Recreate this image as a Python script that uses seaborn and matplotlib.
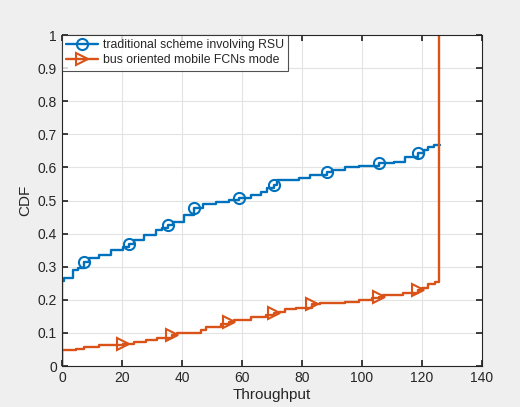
import seaborn as sns
import pandas as pd
import matplotlib.pyplot as plt
from matplotlib.lines import Line2D

# traditional scheme (blue), step vertices of the empirical CDF
rsu_x = [0, 0, 0.6, 3.6, 5.3, 7.5, 9.2, 12.5, 16.3, 20.2, 22.5, 24.0, 27.4, 31.3,
         33.5, 35.2, 37.0, 40.8, 44.1, 46.9, 51.3, 55.7, 59.0, 63.0, 66.3, 68.5,
         70.7, 71.8, 79.0, 82.8, 88.4, 90.0, 94.5, 98.9, 105.5, 110.5, 114.4,
         118.5, 120.5, 122.0, 124.0, 126.0]
rsu_y = [0, 0.258, 0.265, 0.29, 0.297, 0.315, 0.325, 0.335, 0.35, 0.36, 0.37, 0.38,
         0.395, 0.41, 0.418, 0.426, 0.436, 0.456, 0.476, 0.49, 0.496, 0.502, 0.507,
         0.517, 0.527, 0.537, 0.547, 0.562, 0.567, 0.577, 0.587, 0.592, 0.6, 0.605,
         0.612, 0.617, 0.63, 0.643, 0.653, 0.663, 0.668, 0.668]
rsu_marks = [5, 10, 15, 18, 22, 26, 30, 34, 37]

# bus oriented mobile FCNs (orange)
bus_x = [0, 0, 4.8, 7.5, 12.5, 20.2, 24.0, 28.0, 31.8, 36.8, 38.5, 46.2, 48.0, 53.0,
         55.7, 57.5, 63.0, 67.9, 70.7, 72.5, 74.5, 77.9, 83.4, 86.0, 94.5, 98.9,
         103.3, 105.5, 107.0, 113.8, 118.5, 120.0, 122.1, 124.3, 125.8]
bus_y = [0, 0.048, 0.05, 0.058, 0.062, 0.065, 0.073, 0.079, 0.085, 0.094, 0.099,
         0.109, 0.119, 0.127, 0.134, 0.139, 0.149, 0.155, 0.161, 0.164, 0.171, 0.176,
         0.186, 0.189, 0.194, 0.2, 0.204, 0.209, 0.214, 0.221, 0.23, 0.236, 0.247,
         0.255, 1.0]
bus_marks = [5, 9, 14, 18, 22, 27, 30]

labels = ["traditional scheme involving RSU", "bus oriented mobile FCNs mode"]
colors = ["#0072BD", "#D95319"]
markers = ["o", ">"]

rsu = pd.DataFrame({"Throughput": rsu_x, "CDF": rsu_y})
bus = pd.DataFrame({"Throughput": bus_x, "CDF": bus_y})

sns.set_theme(style="white")
plt.rcParams["font.family"] = ["Liberation Sans", "DejaVu Sans"]

fig = plt.figure(figsize=(5.2, 4.07), dpi=100, facecolor="#efefef")
ax = fig.add_axes([0.119, 0.1007, 0.808, 0.8133])
ax.set_facecolor("white")

for df, marks, c, m in [(rsu, rsu_marks, colors[0], markers[0]),
                        (bus, bus_marks, colors[1], markers[1])]:
    sns.lineplot(data=df, x="Throughput", y="CDF", ax=ax, estimator=None, sort=False,
                 drawstyle="steps-post", color=c, linewidth=1.7,
                 marker=m, markersize=8, markevery=marks, markerfacecolor="none",
                 markeredgecolor=c, markeredgewidth=1.5)

ax.set_xlim(0, 140)
ax.set_ylim(0, 1)
ax.set_xticks(range(0, 141, 20))
ax.set_yticks([i / 10 for i in range(11)])
ax.set_yticklabels(["0", "0.1", "0.2", "0.3", "0.4", "0.5", "0.6", "0.7", "0.8", "0.9", "1"])
ax.grid(True, color="#e3e3e3", linewidth=0.8)
ax.tick_params(direction="in", length=4, labelsize=10, colors="#262626",
               top=True, right=True, bottom=True, left=True)
for s in ax.spines.values():
    s.set_color("#262626")
    s.set_linewidth(0.8)
ax.set_xlabel("Throughput", fontsize=11, color="#262626", labelpad=2)
ax.set_ylabel("CDF", fontsize=11, color="#262626", labelpad=4)

handles = [Line2D([], [], color=c, linewidth=1.7, marker=m, markersize=8,
                  markerfacecolor="none", markeredgecolor=c, markeredgewidth=1.5)
           for c, m in zip(colors, markers)]
leg = ax.legend(handles, labels, loc="upper left", fontsize=8.8, frameon=True,
                fancybox=False, edgecolor="#262626", borderaxespad=0,
                handlelength=2.6, borderpad=0.35, labelspacing=0.25,
                handletextpad=0.4, numpoints=1)
leg.get_frame().set_linewidth(0.8)

plt.savefig("out.png", dpi=100, facecolor=fig.get_facecolor())
